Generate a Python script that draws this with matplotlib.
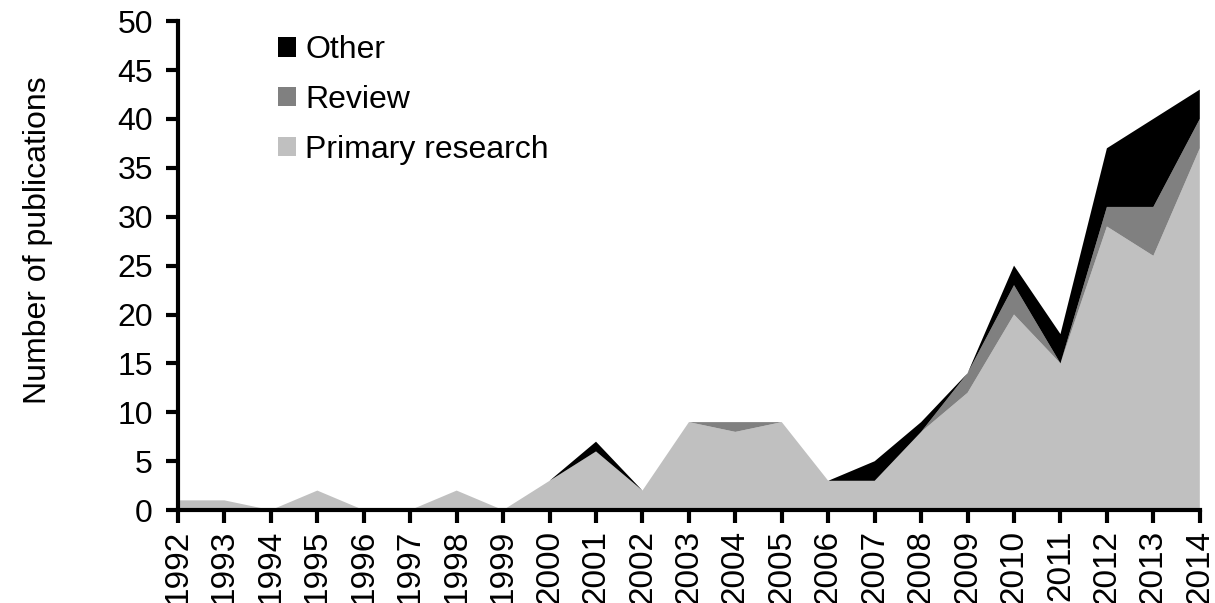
import matplotlib
matplotlib.use("Agg")
import matplotlib.pyplot as plt
import numpy as np

years = list(range(1992, 2015))
primary = [1, 1, 0, 2, 0, 0, 2, 0, 3, 6, 2, 9, 8, 9, 3, 3, 8, 12, 20, 15, 29, 26, 37]
review = [0, 0, 0, 0, 0, 0, 0, 0, 0, 0, 0, 0, 1, 0, 0, 0, 0, 2, 3, 0, 2, 5, 3]
other = [0, 0, 0, 0, 0, 0, 0, 0, 0, 1, 0, 0, 0, 0, 0, 2, 1, 0, 2, 3, 6, 9, 3]

plt.rcParams["font.family"] = ["Liberation Sans", "DejaVu Sans"]

fig = plt.figure(figsize=(12.15, 6.03), dpi=100)
ax = fig.add_axes([0.1465, 0.154, 0.841, 0.811])

ax.stackplot(years, primary, review, other,
             colors=["#c0c0c0", "#808080", "#000000"],
             labels=["Primary research", "Review", "Other"],
             linewidth=0)

ax.set_xlim(1992, 2014)
ax.set_ylim(0, 50)
ax.set_xticks(years)
ax.set_xticklabels([str(y) for y in years], rotation=90, fontsize=24)
ax.set_yticks(np.arange(0, 51, 5))
ax.tick_params(axis="y", labelsize=23, width=3, length=9, direction="out", pad=9)
ax.tick_params(axis="x", width=3, length=9, direction="out", pad=5)
for s in ["top", "right"]:
    ax.spines[s].set_visible(False)
for s in ["left", "bottom"]:
    ax.spines[s].set_linewidth(3)

ax.set_ylabel("Number of publications", fontsize=23)
ax.yaxis.set_label_coords(-0.122, 0.552)

handles, labels = ax.get_legend_handles_labels()
ax.legend(handles[::-1], labels[::-1], loc="upper left",
          bbox_to_anchor=(0.07, 1.03), frameon=False, fontsize=23,
          handlelength=0.55, handleheight=0.55, handletextpad=0.3,
          labelspacing=0.62)

fig.savefig("out.png", dpi=100)
